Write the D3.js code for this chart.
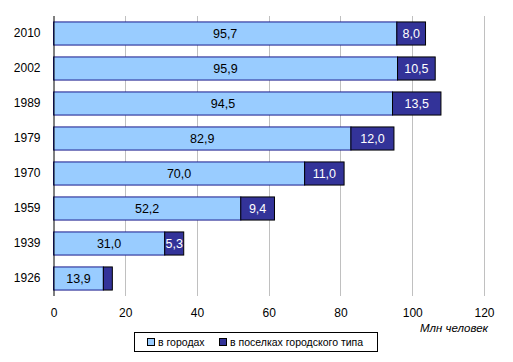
<!DOCTYPE html>
<html><head><meta charset="utf-8">
<script src="https://cdn.jsdelivr.net/npm/d3@7"></script>
<style>body{margin:0;background:#fff}svg{display:block;font-family:Arial,"Liberation Sans",sans-serif}</style>
</head><body>
<script>
const years = ["2010","2002","1989","1979","1970","1959","1939","1926"];
const urban = [95.7, 95.9, 94.5, 82.9, 70.0, 52.2, 31.0, 13.9];
const settlements = [8.0, 10.5, 13.5, 12.0, 11.0, 9.4, 5.3, 2.5];
const settlementLabels = ["8,0","10,5","13,5","12,0","11,0","9,4","5,3",""];
const xTicks = [0,20,40,60,80,100,120];
const seriesNames = ["в городах","в посельках городского типа".replace("посельках","поселках")];

const W=513,H=362;
const svg=d3.select("body").append("svg").attr("width",W).attr("height",H);
const x=d3.scaleLinear().domain([0,120]).range([53.5,484]);
const y=d3.scaleBand().domain(years).range([16,296]).paddingInner(0.34).paddingOuter(0.17);
const fmt=v=>v.toFixed(1).replace(".",",");

// gridlines
svg.append("g").selectAll("line").data(xTicks.slice(1)).join("line")
  .attr("x1",d=>Math.round(x(d))+0.5).attr("x2",d=>Math.round(x(d))+0.5)
  .attr("y1",16).attr("y2",296).attr("stroke","#c0c0c0");

const xAxis=d3.axisBottom(x).tickValues(xTicks).tickSize(0).tickPadding(12).tickFormat(d3.format("d"));
const gx=svg.append("g").attr("transform","translate(0,296)").call(xAxis);
gx.select(".domain").remove();
gx.selectAll("text").attr("font-size",12).attr("fill","#000").attr("font-family","Arial,'Liberation Sans',sans-serif");

const rows=svg.append("g");
years.forEach((yr,i)=>{
  const y0=y(yr), h=y.bandwidth();
  rows.append("rect").attr("x",x(0)).attr("y",y0).attr("width",x(urban[i])-x(0)).attr("height",h)
    .attr("fill","#99ccff").attr("stroke","#1a1a8c").attr("stroke-width",1);
  rows.append("rect").attr("x",x(urban[i])).attr("y",y0).attr("width",x(urban[i]+settlements[i])-x(urban[i])).attr("height",h)
    .attr("fill","#333399").attr("stroke","#000").attr("stroke-width",1);
  rows.append("text").attr("x",(x(0)+x(urban[i]))/2).attr("y",y0+h/2).attr("dy","0.36em")
    .attr("text-anchor","middle").attr("font-size",12.5).attr("fill","#000").text(fmt(urban[i]));
  rows.append("text").attr("x",(x(urban[i])+x(urban[i]+settlements[i]))/2).attr("y",y0+h/2).attr("dy","0.36em")
    .attr("text-anchor","middle").attr("font-size",12.5).attr("fill","#fff").text(settlementLabels[i]);
});

const yAxis=d3.axisLeft(y).tickSize(0).tickPadding(13);
const gy=svg.append("g").attr("transform",`translate(${x(0)},0)`).call(yAxis);
gy.select(".domain").attr("stroke","#000").attr("d","M0.5,16V296");
gy.selectAll("text").attr("font-size",12).attr("fill","#000").attr("font-family","Arial,'Liberation Sans',sans-serif");

svg.append("text").attr("x",488).attr("y",332).attr("text-anchor","end").attr("font-size",11.5)
  .attr("font-style","italic").attr("fill","#000").text("Млн человек");

// legend
const lg=svg.append("g");
lg.append("rect").attr("x",134.5).attr("y",332.5).attr("width",243).attr("height",19).attr("fill","#fff").attr("stroke","#000");
const colors=["#99ccff","#333399"];
const lx=[147,219];
seriesNames.forEach((n,i)=>{
  lg.append("rect").attr("x",lx[i]+0.5).attr("y",338.5).attr("width",7).attr("height",7).attr("fill",colors[i]).attr("stroke","#000");
  lg.append("text").attr("x",lx[i]+11).attr("y",346).attr("font-size",10.5).attr("fill","#000").text(n);
});
</script>
</body></html>
